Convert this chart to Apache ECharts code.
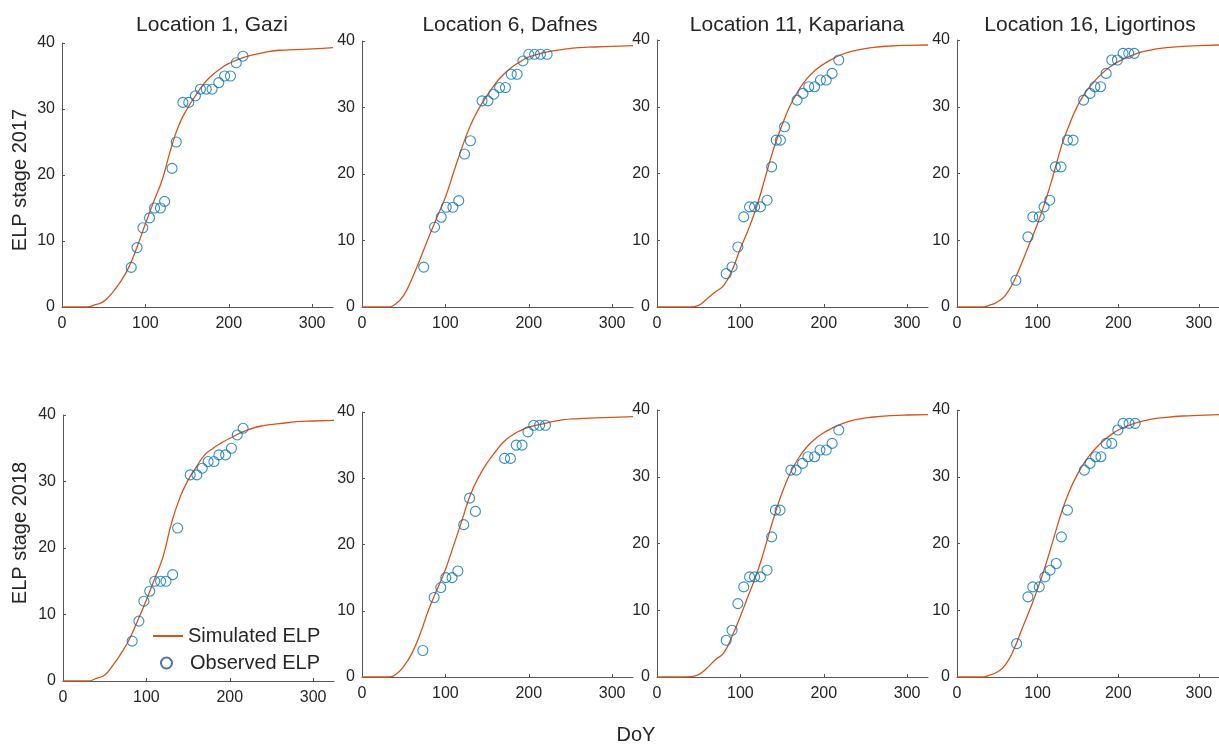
<!DOCTYPE html>
<html>
<head>
<meta charset="utf-8">
<title>ELP stage</title>
<script src="https://cdn.jsdelivr.net/npm/echarts@6/dist/echarts.min.js"></script>
<style>
    html, body { margin: 0; padding: 0; background: #fff; }
    #chart { width: 1219px; height: 746px; }
</style>
</head>
<body>
<div id="chart"></div>
<script>
// simulated curve, read at fixed days
const simDays = [0, 30, 40, 50, 60, 70, 80, 90, 100, 110, 120, 130, 140, 150, 160, 170, 180, 190, 200, 220, 240, 260, 280, 300, 325];
const sim2017Gazi = [0, 0, 0.35, 0.85, 2.1, 3.8, 6, 9.1, 12.6, 16, 19.2, 23.7, 27.5, 30, 32, 33.8, 35.1, 36.1, 36.9, 37.9, 38.5, 38.9, 39.0, 39.1, 39.3];
const sim2017Dafnes = [0, 0, 0.4, 1.75, 4.3, 7.3, 10.5, 13.5, 16.5, 20.3, 24, 27.3, 29.8, 31.8, 33.6, 35, 36.1, 36.9, 37.6, 38.3, 38.7, 39, 39.1, 39.2, 39.3];
const sim2017Kapariana = [0, 0, 0, 0.25, 1.25, 2.25, 3.25, 5.5, 8.75, 11.75, 15.25, 19.5, 23.75, 27.25, 30.25, 32.5, 34.25, 35.5, 36.4, 37.75, 38.5, 38.9, 39.1, 39.2, 39.25];
const sim2017Ligortinos = [0, 0, 0.25, 0.75, 1.75, 3.75, 6.5, 9.5, 12.5, 16, 20, 24.25, 27.5, 30.25, 32.25, 33.75, 35, 36, 36.75, 37.85, 38.5, 38.85, 39.05, 39.15, 39.25];
const sim2018Gazi = [0, 0, 0.4, 0.9, 2.4, 4.2, 6.4, 9.2, 12.2, 15.4, 18.7, 23.7, 27.5, 30.2, 32.2, 34, 35, 35.8, 36.5, 37.7, 38.4, 38.7, 39, 39.1, 39.2];
const sim2018Dafnes = [0, 0, 0.35, 1.6, 3.6, 6.6, 10.2, 13.2, 16.2, 19.9, 23.7, 27.5, 30.2, 32.3, 34, 35.5, 36.5, 37.2, 37.7, 38.3, 38.8, 39, 39.1, 39.2, 39.3];
const sim2018Kapariana = [0, 0, 0.05, 0.35, 1.35, 2.6, 3.6, 6.1, 9.1, 12.35, 15.6, 19.6, 23.85, 27.6, 30.6, 32.85, 34.5, 35.7, 36.6, 37.85, 38.6, 38.95, 39.15, 39.25, 39.3];
const sim2018Ligortinos = [0, 0, 0.25, 0.75, 1.8, 4, 7, 10, 13.2, 16.8, 20.8, 24.8, 28, 30.5, 32.5, 34, 35.2, 36.2, 37, 38, 38.6, 38.9, 39.1, 39.2, 39.3];

// observed ELP
const obsDays2017Gazi = [83, 90, 97, 105, 111, 118, 123, 132, 137, 145, 152, 160, 166, 173, 180, 188, 195, 202, 209, 217];
const obsVals2017Gazi = [6, 9, 12, 13.5, 15, 15, 16, 21, 25, 31, 31, 32, 33, 33, 33, 34, 35, 35, 37, 38];
const obsDays2017Dafnes = [74, 87, 95, 101, 109, 116, 123, 130, 144, 151, 158, 165, 172, 179, 186, 193, 200, 207, 214, 222];
const obsVals2017Dafnes = [6, 12, 13.5, 15, 15, 16, 23, 25, 31, 31, 32, 33, 33, 35, 35, 37, 38, 38, 38, 38];
const obsDays2017Kapariana = [83, 90, 97, 104, 111, 117, 124, 132, 137.5, 143, 148, 153, 168, 175, 182, 189, 196, 203, 210, 218];
const obsVals2017Kapariana = [5, 6, 9, 13.5, 15, 15, 15, 16, 21, 25, 25, 27, 31, 32, 33, 33, 34, 34, 35, 37];
const obsDays2017Ligortinos = [73, 88, 94, 102, 108, 115, 122, 129, 137, 144, 157, 165, 171, 178, 185, 192, 199, 206, 213, 220];
const obsVals2017Ligortinos = [4, 10.5, 13.5, 13.5, 15, 16, 21, 21, 25, 25, 31, 32, 33, 33, 35, 37, 37, 38, 38, 38];
const obsDays2018Gazi = [83, 91, 97, 104, 110, 117, 123.5, 131.5, 137.5, 152.5, 160.5, 167, 174, 181, 187, 195, 202, 209, 216];
const obsVals2018Gazi = [6, 9, 12, 13.5, 15, 15, 15, 16, 23, 31, 31, 32, 33, 33, 34, 34, 35, 37, 38];
const obsDays2018Dafnes = [73, 86.5, 94.5, 100.5, 108, 115, 122, 129, 136, 171, 178, 185, 192, 199, 206, 213, 220];
const obsVals2018Dafnes = [4, 12, 13.5, 15, 15, 16, 23, 27, 25, 33, 33, 35, 35, 37, 38, 38, 38];
const obsDays2018Kapariana = [83, 90, 97, 104, 111, 117, 124, 132, 137.5, 142, 147.5, 160.5, 167, 174.5, 181, 189, 195.5, 203, 210, 218];
const obsVals2018Kapariana = [5.5, 7, 11, 13.5, 15, 15, 15, 16, 21, 25, 25, 31, 31, 32, 33, 33, 34, 34, 35, 37];
const obsDays2018Ligortinos = [74, 88, 94, 102, 109, 115.5, 123, 129.5, 137, 158, 165, 172, 178.5, 185, 192, 199.5, 206, 213.5, 221];
const obsVals2018Ligortinos = [5, 12, 13.5, 13.5, 15, 16, 17, 21, 25, 31, 32, 33, 33, 35, 35, 37, 38, 38, 38];

const titles = ['Location 1, Gazi', 'Location 6, Dafnes', 'Location 11, Kapariana', 'Location 16, Ligortinos'];
const xTicks = [0, 100, 200, 300];

const panels = [
    {sim: sim2017Gazi, days: obsDays2017Gazi, vals: obsVals2017Gazi},
    {sim: sim2017Dafnes, days: obsDays2017Dafnes, vals: obsVals2017Dafnes},
    {sim: sim2017Kapariana, days: obsDays2017Kapariana, vals: obsVals2017Kapariana},
    {sim: sim2017Ligortinos, days: obsDays2017Ligortinos, vals: obsVals2017Ligortinos},
    {sim: sim2018Gazi, days: obsDays2018Gazi, vals: obsVals2018Gazi},
    {sim: sim2018Dafnes, days: obsDays2018Dafnes, vals: obsVals2018Dafnes},
    {sim: sim2018Kapariana, days: obsDays2018Kapariana, vals: obsVals2018Kapariana},
    {sim: sim2018Ligortinos, days: obsDays2018Ligortinos, vals: obsVals2018Ligortinos}
];

// layout (pixels)
const gridLeft = [62, 362, 657, 957, 63, 362, 657, 957];
const gridTop = [43, 41, 40, 40, 415, 412, 410, 410];
const gridBottom = [307, 307, 307, 307, 681, 677, 677, 677];
const titleX = [212, 510, 797, 1090];

const FONT = '"Liberation Sans", Arial, Helvetica, sans-serif';
const TXT = '#262626';
const AXIS = '#555';

let grids = [], xAxes = [], yAxes = [], series = [];
panels.forEach((p, i) => {
    grids.push({left: gridLeft[i], top: gridTop[i], width: 271, height: gridBottom[i] - gridTop[i], containLabel: false});
    xAxes.push({
        gridIndex: i, type: 'value', min: 0, max: 325, interval: 100,
        axisLine: {show: true, onZero: false, lineStyle: {color: AXIS, width: 1}},
        axisTick: {show: true, inside: true, length: 3, customValues: xTicks, lineStyle: {color: AXIS}},
        axisLabel: {customValues: xTicks, fontSize: 16, color: TXT, fontFamily: FONT, margin: 9},
        splitLine: {show: false}
    });
    yAxes.push({
        gridIndex: i, type: 'value', min: 0, max: 40, interval: 10,
        axisLine: {show: true, onZero: false, lineStyle: {color: AXIS, width: 1}},
        axisTick: {show: true, inside: true, length: 3, lineStyle: {color: AXIS}},
        axisLabel: {fontSize: 16, color: TXT, fontFamily: FONT, margin: 7},
        splitLine: {show: false}
    });
    series.push({
        name: 'Simulated ELP', type: 'line', xAxisIndex: i, yAxisIndex: i,
        data: simDays.map((d, k) => [d, p.sim[k]]),
        symbol: 'none', showSymbol: false, smooth: 0.5,
        lineStyle: {color: '#D95319', width: 1.3},
        itemStyle: {color: '#D95319'},
        z: 2
    });
    series.push({
        name: 'Observed ELP', type: 'scatter', xAxisIndex: i, yAxisIndex: i,
        data: p.days.map((d, k) => [d, p.vals[k]]),
        symbol: 'circle', symbolSize: 10,
        itemStyle: {color: 'transparent', borderColor: '#0072BD', borderWidth: 1.1},
        z: 3
    });
});

const textStyleOf = (t, size) => ({
    text: t, font: size + 'px ' + FONT, fill: TXT,
    textAlign: 'center', textVerticalAlign: 'middle', align: 'center', verticalAlign: 'middle'
});
let graphics = titles.map((t, i) => ({type: 'text', x: titleX[i], y: 25, style: textStyleOf(t, 21)}));
graphics.push({type: 'text', x: 20, y: 180, rotation: Math.PI / 2, style: textStyleOf('ELP stage 2017', 20)});
graphics.push({type: 'text', x: 20, y: 533, rotation: Math.PI / 2, style: textStyleOf('ELP stage 2018', 20)});
graphics.push({type: 'text', x: 636, y: 735, style: textStyleOf('DoY', 20)});

var myChart = echarts.init(document.getElementById('chart'));
var option = {
    animation: false,
    backgroundColor: '#fff',
    grid: grids,
    xAxis: xAxes,
    yAxis: yAxes,
    series: series,
    legend: [
        {
            data: [{name: 'Simulated ELP', icon: 'rect', itemStyle: {color: '#D95319'}}],
            left: 153, top: 626, itemWidth: 30, itemHeight: 2,
            selectedMode: false, padding: 0,
            textStyle: {fontSize: 20, color: TXT, fontFamily: FONT}
        },
        {
            data: [{name: 'Observed ELP', icon: 'circle', itemStyle: {color: '#fff', borderColor: '#1f4e9a', borderWidth: 2}}],
            left: 160, top: 653, itemWidth: 11, itemHeight: 11,
            selectedMode: false, padding: 0,
            textStyle: {fontSize: 20, color: TXT, fontFamily: FONT, padding: [0, 0, 0, 13]}
        }
    ],
    graphic: graphics
};
myChart.setOption(option);
</script>
</body>
</html>
